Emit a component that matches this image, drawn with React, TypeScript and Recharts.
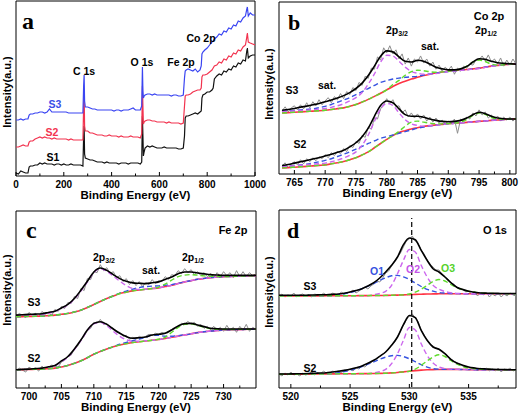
import React from 'react';
import { LineChart, Line, XAxis, YAxis, ReferenceArea, ReferenceLine } from 'recharts';

const FONT = '"Liberation Sans", Arial, Helvetica, sans-serif';
const SERIF = '"Liberation Serif", "Times New Roman", serif';

// ---------- Panel a: survey spectra ----------
const surveyEnergy = [0,10,20,30,40,50,55,60,70,80,90,100,110,120,130,140,150,160,170,180,190,200,210,220,230,240,250,260,270,280,283,285,287,290,300,310,320,330,340,350,360,370,380,390,400,410,420,430,440,450,460,470,480,490,500,510,520,526,529,531,533,536,540,550,560,570,580,590,600,610,620,630,640,650,660,670,680,690,700,705,708,712,720,730,740,750,760,770,775,778,782,790,800,810,820,825,830,840,850,860,870,880,890,900,910,920,930,940,950,960,965,968,972,980,990,1000];
const surveyS1 = [3,2,5,4,3,3, 9,10, 10,11,11,13,12,13,12,12,12,11,12,12,11,12,11,11,12,11,11,11,11,10, 40,50,22,18, 17,16,16,15,14,14,14,13,14,13,13,13,13,12,13,13,13,12,13,13,13,13,12, 14,60,40,20,24,28, 30,29,30,29,28,28,28,29,28,28,28,28,28,27,27,28, 40,58,60, 60,61,62,63,62,64, 65,78,81, 82,84,84,86, 88,97, 100,102,101,105,104,107,106,110,109,113,112,116,115, 124,128,118, 120,121,121];
const surveyS2 = [29,29,30,31,30,30, 34,35, 35,37,38,39,38,39,38,38,37,38,37,37,37,37,37,36,37,36,36,36,36,36, 70,85,50,45, 45,43,43,42,41,41,41,40,40,41,40,40,40,39,40,39,39,39,40,39,39,39,38, 42,90,70,52,54,55, 56,56,55,55,54,54,54,54,53,54,53,53,53,53,52,53, 70,80,81, 81,82,84,85,86,86, 88,99,101, 101,102,104,106, 108,110, 111,114,113,117,116,120,119,123,122,126,125,129,131, 138,143,134, 133,132,131];
const surveyS3 = [56,56,57,56,57,57, 61,62, 62,63,63,64,64,63,64,67,64,64,64,64,64,64,64,63,63,63,63,63,63,63, 90,101,75,69, 69,68,67,67,66,66,66,66,66,66,66,65,66,66,65,66,66,66,67,68,66,66,66, 70,109,85,78,80,81, 82,82,81,82,81,81,81,81,81,81,80,81,81,80,80,81, 98,105,106, 107,106,105,107,104,106, 110,122,124, 126,128,131,134, 135,137, 139,142,141,145,144,148,147,151,150,155,154,158,160, 166,169,160, 163,161,161];
const surveyTicks = [0,100,200,300,400,500,600,700,800,900,1000];
const surveyLabels = [0,200,400,600,800,1000];

// ---------- Panel b: Co 2p ----------
const range = (start: number, step: number, n: number) => Array.from({ length: n }, (_, i) => +(start + i * step).toFixed(2));
const coFitEnergy = range(763, 1, 39);
const coRawEnergy = range(763, 0.5, 77);
const coS3Raw = [62,66,61,65,67,63,68,64,70,65, 71,67,73,68,72,75,70,76,73,79, 74,81,78,85,82,90,87,96,94,104, 103,115,112,124,119,126,118,122,113,118, 108,114,106,113,110,116,109,113,106,110, 103,107,101,105,102,106,98,104,101,106, 104,108,107,112,112,116,111,117,110,113, 108,114,106,112,107,113,108];
const coS3Fit = [62.7,63.3,64.3,65.7,66.7,68,69.3,71,72.7,74.7, 77,80,84,89.3,96.7,106,115.7,121,120,115, 110.7,110,111.7,110.7,108,105,103.3,102.3,102.3,103.3, 105.7,110,113.3,112.7,110.7,109.3,108.7,108.3,108];
const coS3Bg = [60,60.3,60.7,61,61.4,61.8,62.2,62.7,63.4,64.2, 65,66.5,68.3,70.7,73.3,76.3,79.3,82.7,86,89, 91.2,93.3,95,96.7,98,99.3,100.2,101,101.6,102.2, 102.7,103.3,104,105,106,106.7,107.3,108,108.3];
const coS3Mag = [61.3,61.6,62,62.4,62.8,63.2,63.7,64.3,65.5,67, 69,71.8,75,80,88.3,98.3,110,116.7,116,110.7, 105,100.7,99,98,98.2,98.7,99.7,100.7,101.3,101.8, 102.3,103,103.7,104.8,105.8,106.6,107.2,107.7,108];
const coS3Blue = [61.7,62.1,62.5,63,63.5,64,65.2,66.5,68.3,70.5, 72.7,75,78,81,84,87,90,91.7,93.3,94.2, 95,95.5,96,97.2,98.3,99.2,100,100.7,101.3,101.9, 102.5,103.2,104,105,106,106.7,107.3,108,108.3];
const coS3Green = [60,60.3,60.7,61,61.4,61.8,62.2,62.7,63.4,64.2, 65,66.5,68.3,70.7,73.3,76.3,79.3,82.7,88,92, 97,100.5,102,101.5,100.5,100,100.3,101,101.8,103, 106,110,112,110.5,108,107,107.3,108,108.3];
const coS2Raw = [8,11,6,10,12,9,14,10,15,12, 16,13,17,15,19,16,21,18,22,20, 25,22,28,26,32,30,38,36,46,44, 55,54,64,68,74,69,73,66,67,60, 63,56,60,55,59,54,58,52,56,51, 55,50,53,49,52,50,54,40,54,52, 56,54,60,57,63,58,61,55,58,53, 57,52,56,53,56,52,55];
const coS2Fit = [8.3,9.3,10.7,12,13.3,14.7,16,17.7,19.3,21.3, 23.3,26.7,30.7,36.7,45,56.7,67.3,71.7,70,64, 58.3,56.7,56.7,55.7,54,52.7,51.7,51.3,51.7,52.7, 55,58.3,60.7,59.3,56.7,55,54.3,54,54];
const coS2Bg = [6,6.3,6.7,7.1,7.5,8,8.5,9,10,11.1, 12.3,14,16,18.7,21.7,25.8,30,34,37.7,40.7, 42.6,44.3,45.5,46.7,47.5,48.3,48.8,49.3,49.8,50.3, 50.7,51.2,51.7,52.2,52.7,53.1,53.5,54,54.3];
const coS2Mag = [7.3,7.7,8.2,8.6,9.1,9.6,10.1,10.7,12,13.7, 15.7,18.5,21.7,28.3,38.3,51.7,64,69.3,67.3,60, 53.3,49.3,47.7,47,47.4,48,48.7,49.3,49.8,50.3, 50.7,51.2,51.7,52.2,52.7,53.1,53.5,54,54.3];
const coS2Blue = [7.3,7.8,8.3,8.9,9.6,10.7,12,13.4,15,17.2, 19.4,21.7,24.5,27.2,30,32.5,35,36.7,38.3,40, 41.7,43.3,45,46.2,47.3,48,48.7,49.3,49.8,50.3, 50.7,51.2,51.7,52.2,52.7,53.1,53.5,54,54.3];
const coS2Green = [6,6.3,6.7,7.1,7.5,8,8.5,9,10,11.1, 12.3,14,16,18.7,21.7,25.8,30,34,37.7,42, 47,51,52,51,50,49.3,49.3,49.5,50,51, 53.5,57.5,60,58.5,55.5,54,53.8,54,54.3];
const coTicks = [765,767.5,770,772.5,775,777.5,780,782.5,785,787.5,790,792.5,795,797.5,800];
const coLabels = [765,770,775,780,785,790,795,800];

// ---------- Panel c: Fe 2p ----------
const feFitEnergy = range(698, 1, 38);
const feRawEnergy = range(698, 0.5, 75);
const feS3Raw = [72,75,73,71,76,73,75,72,77,74, 76,73,79,77,82,80,86,85,92,90, 100,98,110,109,117,116,124,118,121,115, 117,111,113,107,110,104,108,103,107,102, 106,104,109,105,108,107,112,109,114,113, 118,115,120,116,119,114,117,113,116,112, 115,111,116,112,117,113,116,111,118,112, 117,112,116,113,115];
const feS3Fit = [73.3,73.6,74,74.3,74.7,76,77.3,80.5,84,90, 98.3,107.3,116.7,120.7,118.3,114,110,107.3,105.7,105.3, 105,105.8,106.7,109.2,111.7,115,116.7,116.7,115.7,114.8, 114,113.6,113.3,113.3,113.3,113.3,113.3,113.3];
const feS3Bg = [71.7,71.8,72,72.1,72.3,72.8,73.3,74.1,75,76.5, 78.3,81,84,87,90,92.5,95,96.4,97.7,98.5, 99.3,100,100.7,102,103.3,105,106.7,108,109.3,110.2, 111,111.5,112,112.2,112.4,112.6,112.8,113];
const feS3Mag = [72.5,72.7,73,73.3,73.7,75,77,80,83.5,89.5, 97.5,106.5,116,120,117.5,112.5,107.5,103,100,99, 99.3,100,100.7,102,103.3,105,106.7,108,109.3,110.2, 111,111.5,112,112.2,112.4,112.6,112.8,113];
const feS3Blue = [71.7,71.8,72,72.1,72.3,72.8,73.3,74.1,75,76.5, 78.3,81,84,87,90,92.5,95.5,97.5,99.5,101, 102,102.5,102.7,103.3,104,105.3,106.7,108,109.3,110.2, 111,111.5,112,112.2,112.4,112.6,112.8,113];
const feS3Green = [71.7,71.8,72,72.1,72.3,72.8,73.3,74.1,75,76.5, 78.3,81,84,87,90,92.5,95,96.4,97.7,98.5, 99.3,100,101.5,104.5,108.5,112,113.5,114,113.5,112.8, 112.3,112,112,112.2,112.4,112.6,112.8,113];
const feS2Raw = [17,20,18,16,21,19,20,17,22,19, 21,23,22,21,26,28,32,33,39,42, 48,52,58,60,66,65,69,64,65,61, 60,56,56,52,53,49,51,49,52,50, 52,54,53,55,54,56,55,57,59,61, 62,65,64,67,64,66,62,64,60,62, 59,62,58,61,57,63,58,61,56,62, 58,64,57,61,59];
const feS2Fit = [18.3,18.7,19,19.5,20,21.3,22.7,27.2,31.7,39.3, 48.3,58.3,65,66.7,64,59.3,55,51.7,50,50.6, 51.3,53.3,54,55,58.3,62.3,64.7,65,63.3,61.7, 60,59.6,59.3,59.3,59.3,59.3,59.3,59.3];
const feS2Bg = [18.3,18.5,18.7,18.8,19,19.5,20,21.2,22.7,24.8, 27.3,30.5,34,36.8,39.3,41.5,43.3,44.6,45.7,46.5, 47.3,48,48.7,49.8,51,52.2,53.3,54.5,55.7,56.5, 57.3,57.8,58.3,58.5,58.7,58.9,59.1,59.3];
const feS2Mag = [18.3,18.5,18.8,19.2,19.7,20.8,22.3,26.5,31,38.7, 47.7,57.7,64.5,66,62.5,57,52,48.5,47,47, 47.5,48,48.7,49.8,51,52.2,53.3,54.5,55.7,56.5, 57.3,57.8,58.3,58.5,58.7,58.9,59.1,59.3];
const feS2Blue = [18.3,18.5,18.7,18.8,19,19.5,20,21.2,22.7,24.8, 27.3,30.5,34,36.8,39.3,41.5,44,45.8,47.5,49.3, 51,53,53,52,52,52.7,53.5,54.5,55.7,56.5, 57.3,57.8,58.3,58.5,58.7,58.9,59.1,59.3];
const feS2Green = [18.3,18.5,18.7,18.8,19,19.5,20,21.2,22.7,24.8, 27.3,30.5,34,36.8,39.3,41.5,43.3,44.6,45.7,46.5, 47.3,48,49,51,56,61,64,64.5,63,61, 59.5,59,58.8,58.8,58.9,59,59.1,59.3];
const feTicks = [700,702.5,705,707.5,710,712.5,715,717.5,720,722.5,725,727.5,730,732.5];
const feLabels = [700,705,710,715,720,725,730];

// ---------- Panel d: O 1s ----------
const oFitEnergy = range(519, 0.5, 41);
const oRawEnergy = range(519, 0.25, 81);
const oS3Raw = [92,94,91,93,92,95,91,93, 94,92,93,91,94,93,92,95, 93,92,95,94,93,96,94,95, 96,98,95,97,99,101,99,102, 104,107,106,110,115,117,122,127, 131,135,141,147,149,152,147,144, 138,134,128,124,121,118,118,114, 111,109,105,104,101,99,99,96, 97,94,97,92,95,93,96,91, 94,92,95,91,94,92,95,93,92];
const oS3Fit = [92.7,92.7,92.7,92.7,92.7,92.9,93,93.2,93.3,93.6, 94,94.8,96,97.5,99.3,102,105.3,110,116,122.7, 131,143.3,150,148.3,137.7,127.7,119.3,116,111,105.3, 100.7,98.5,96.7,95.8,95,94.8,94.7,94.6,94.5,94.5, 94.5];
const oS3Bg = [92,92,92,92,92,92.1,92.1,92.1,92.2,92.2, 92.2,92.3,92.3,92.3,92.4,92.4,92.5,92.5,92.6,92.7, 92.9,93.1,93.4,93.6,93.8,94,94.1,94.2,94.3,94.3, 94.3,94.3,94.3,94.3,94.3,94.3,94.3,94.3,94.3,94.3, 94.3];
const oS3O1 = [92,92,92,92,92,92.1,92.1,92.1,92.2,92.6, 93.2,94.2,95.5,97.2,99.3,101.8,104.5,107.5,110.2,112.2, 112.6,111.2,108.5,105,101.5,98.7,96.8,95.5,94.9,94.5, 94.4,94.3,94.3,94.3,94.3,94.3,94.3,94.3,94.3,94.3, 94.3];
const oS3O2 = [92,92,92,92,92,92.1,92.1,92.1,92.2,92.2, 92.2,92.3,92.3,92.3,92.4,92.4,93.3,94.5,96.7,102.7, 114.3,127.7,138.5,136,122.7,111,102.7,98.7,96.5,95.2, 94.6,94.4,94.3,94.3,94.3,94.3,94.3,94.3,94.3,94.3, 94.3];
const oS3O3 = [92,92,92,92,92,92.1,92.1,92.1,92.2,92.2, 92.2,92.3,92.3,92.3,92.4,92.4,92.5,92.5,92.6,92.7, 92.9,93.1,94,95.8,98.8,102.5,106.5,108.5,107,103.5, 100.5,98.3,96.8,95.8,95.1,94.7,94.5,94.4,94.3,94.3, 94.3];
const oS2Raw = [14,12,15,13,16,13,14,12, 15,13,14,16,13,15,14,17, 15,14,17,16,17,15,18,17, 19,17,20,19,22,21,24,25, 28,29,32,34,36,39,43,46, 51,57,63,68,72,74,70,66, 58,53,48,44,42,40,39,37, 34,32,29,27,25,24,22,21, 21,18,21,17,20,18,20,17, 19,17,20,16,19,18,20,17,18];
const oS2Fit = [14,14,14.1,14.2,14.3,14.5,14.8,15,15.3,16, 16.7,17.6,18.7,20.2,22,24.7,27.7,31.7,36,42.7, 51,63.3,72.5,70.3,57.7,47.7,41,38.7,34.3,28.7, 25,22.8,21,20,19.3,19,18.7,18.5,18.4,18.3, 18.3];
const oS2Bg = [13.7,13.7,13.8,13.8,13.9,13.9,14,14,14.1,14.1, 14.2,14.2,14.3,14.3,14.4,14.4,14.5,14.6,14.8,15.1, 15.5,16.1,16.8,17.4,17.9,18.2,18.4,18.5,18.6,18.6, 18.6,18.5,18.4,18.3,18.3,18.3,18.3,18.3,18.3,18.3, 18.3];
const oS2O1 = [13.7,13.7,13.8,13.8,13.9,13.9,14,14,14.1,14.6, 15.3,16.4,17.8,19.5,21.5,23.8,26.2,28.7,30.8,32.3, 32.6,31.4,29.2,26.3,23.3,20.9,19.4,18.8,18.6,18.6, 18.6,18.5,18.4,18.3,18.3,18.3,18.3,18.3,18.3,18.3, 18.3];
const oS2O2 = [13.7,13.7,13.8,13.8,13.9,13.9,14,14,14.1,14.1, 14.2,14.2,14.3,14.3,14.4,14.4,15,16.3,18.7,24.3, 34.3,47.7,60.5,58,44.3,32.7,25,21,19.5,18.9, 18.7,18.5,18.4,18.3,18.3,18.3,18.3,18.3,18.3,18.3, 18.3];
const oS2O3 = [13.7,13.7,13.8,13.8,13.9,13.9,14,14,14.1,14.1, 14.2,14.2,14.3,14.3,14.4,14.4,14.5,14.6,14.8,15.1, 15.5,16.1,16.8,18.8,22.7,27,31,33.2,31.5,27.5, 24,21.5,20,19.2,18.8,18.5,18.4,18.3,18.3,18.3, 18.3];
const oTicks = [520,522.5,525,527.5,530,532.5,535,537.5];
const oLabels = [520,525,530,535];
const oPeakCenter = 530.2;

// ---------- styling ----------
const GRAY = '#8d8d8d';
const RED = '#ff3344';
const BLUE = '#3552e0';
const MAG = '#cc66ee';
const GREEN = '#5fdc2c';
const BLACK = '#000000';

const rows = (xs: number[], ys: number[]) => xs.map((x, i) => ({ x, y: ys[i] }));

const makeTick = (labels: number[]) => (props: any) => {
  const { x, y, payload } = props;
  const major = labels.some((v) => Math.abs(v - payload.value) < 1e-6);
  return (
    <g>
      <line x1={x} x2={x} y1={y} y2={y - (major ? 4 : 2.5)} stroke="#000" strokeWidth={1} />
      {major && (
        <text x={x} y={y + 12} textAnchor="middle" fontSize={10} fontWeight="bold" fontFamily={FONT} fill="#000">
          {payload.value}
        </text>
      )}
    </g>
  );
};

function sampleLines(id: string, fitX: number[], rawX: number[], raw: number[], fit: number[], bg: number[], blue: number[], mag: number[], green: number[]) {
  const common = { dataKey: 'y', dot: false, isAnimationActive: false, activeDot: false } as any;
  return [
    <Line key={id + 'raw'} {...common} data={rows(rawX, raw)} type="linear" stroke={GRAY} strokeWidth={1} />,
    <Line key={id + 'bg'} {...common} data={rows(fitX, bg)} type="monotone" stroke={RED} strokeWidth={1.6} />,
    <Line key={id + 'blue'} {...common} data={rows(fitX, blue)} type="monotone" stroke={BLUE} strokeWidth={1.4} strokeDasharray="5 3" />,
    <Line key={id + 'mag'} {...common} data={rows(fitX, mag)} type="monotone" stroke={MAG} strokeWidth={1.4} strokeDasharray="5 3" />,
    <Line key={id + 'green'} {...common} data={rows(fitX, green)} type="monotone" stroke={GREEN} strokeWidth={1.4} strokeDasharray="5 3" />,
    <Line key={id + 'fit'} {...common} data={rows(fitX, fit)} type="monotone" stroke={BLACK} strokeWidth={1.6} />,
  ];
}

const abs = (left: number, top: number): React.CSSProperties => ({ position: 'absolute', left, top });

const txt = { fontFamily: FONT, fontWeight: 'bold' as const, fontSize: 10.5, fill: '#000' };

export default function App() {
  const aDom: [number, number] = [0, 1000];
  const aY: [number, number] = [0, 175];
  const bDom: [number, number] = [762.5, 801];
  const bY: [number, number] = [0, 169];
  const cDom: [number, number] = [698, 735];
  const cY: [number, number] = [0, 178];
  const dDom: [number, number] = [519, 539];
  const dY: [number, number] = [0, 178];

  return (
    <div style={{ position: 'absolute', left: 0, top: 0, width: 520, height: 417, background: '#fff', overflow: 'hidden' }}>
      {/* Panel a */}
      <div style={abs(0, 0)}>
        <LineChart width={282} height={205} margin={{ top: 1, right: 27, bottom: 0, left: 16 }}>
          <XAxis dataKey="x" type="number" domain={aDom} ticks={surveyTicks} interval={0} tick={makeTick(surveyLabels)} tickLine={false} axisLine={false} tickSize={0} tickMargin={0} height={29} allowDataOverflow />
          <YAxis type="number" domain={aY} hide allowDataOverflow />
          <Line data={rows(surveyEnergy, surveyS1)} dataKey="y" type="linear" stroke="#111" strokeWidth={1.2} dot={false} isAnimationActive={false} />
          <Line data={rows(surveyEnergy, surveyS2)} dataKey="y" type="linear" stroke="#f2334f" strokeWidth={1.2} dot={false} isAnimationActive={false} />
          <Line data={rows(surveyEnergy, surveyS3)} dataKey="y" type="linear" stroke="#3a45f2" strokeWidth={1.2} dot={false} isAnimationActive={false} />
          <ReferenceArea x1={aDom[0]} x2={aDom[1]} y1={aY[0]} y2={aY[1]} fill="none" stroke="#000" strokeWidth={1} ifOverflow="visible" />
        </LineChart>
      </div>

      {/* Panel b */}
      <div style={abs(260, 0)}>
        <LineChart width={260} height={205} margin={{ top: 2, right: 4, bottom: 0, left: 19 }}>
          <XAxis dataKey="x" type="number" domain={bDom} ticks={coTicks} interval={0} tick={makeTick(coLabels)} tickLine={false} axisLine={false} tickSize={0} tickMargin={0} height={31} allowDataOverflow />
          <YAxis type="number" domain={bY} hide allowDataOverflow />
          {sampleLines('b3', coFitEnergy, coRawEnergy, coS3Raw, coS3Fit, coS3Bg, coS3Blue, coS3Mag, coS3Green)}
          {sampleLines('b2', coFitEnergy, coRawEnergy, coS2Raw, coS2Fit, coS2Bg, coS2Blue, coS2Mag, coS2Green)}
          <ReferenceArea x1={bDom[0]} x2={bDom[1]} y1={bY[0]} y2={bY[1]} fill="none" stroke="#000" strokeWidth={1} ifOverflow="visible" />
        </LineChart>
      </div>

      {/* Panel c */}
      <div style={abs(0, 205)}>
        <LineChart width={260} height={212} margin={{ top: 6, right: 4, bottom: 0, left: 16 }}>
          <XAxis dataKey="x" type="number" domain={cDom} ticks={feTicks} interval={0} tick={makeTick(feLabels)} tickLine={false} axisLine={false} tickSize={0} tickMargin={0} height={29} allowDataOverflow />
          <YAxis type="number" domain={cY} hide allowDataOverflow />
          {sampleLines('c3', feFitEnergy, feRawEnergy, feS3Raw, feS3Fit, feS3Bg, feS3Blue, feS3Mag, feS3Green)}
          {sampleLines('c2', feFitEnergy, feRawEnergy, feS2Raw, feS2Fit, feS2Bg, feS2Blue, feS2Mag, feS2Green)}
          <ReferenceArea x1={cDom[0]} x2={cDom[1]} y1={cY[0]} y2={cY[1]} fill="none" stroke="#000" strokeWidth={1} ifOverflow="visible" />
        </LineChart>
      </div>

      {/* Panel d */}
      <div style={abs(260, 205)}>
        <LineChart width={260} height={212} margin={{ top: 5, right: 4, bottom: 0, left: 19 }}>
          <XAxis dataKey="x" type="number" domain={dDom} ticks={oTicks} interval={0} tick={makeTick(oLabels)} tickLine={false} axisLine={false} tickSize={0} tickMargin={0} height={29} allowDataOverflow />
          <YAxis type="number" domain={dY} hide allowDataOverflow />
          {sampleLines('d3', oFitEnergy, oRawEnergy, oS3Raw, oS3Fit, oS3Bg, oS3O1, oS3O2, oS3O3)}
          {sampleLines('d2', oFitEnergy, oRawEnergy, oS2Raw, oS2Fit, oS2Bg, oS2O1, oS2O2, oS2O3)}
          <ReferenceLine segment={[{ x: oPeakCenter, y: 1 }, { x: oPeakCenter, y: 170 }]} stroke="#000" strokeWidth={1.2} strokeDasharray="5 3" />
          <ReferenceArea x1={dDom[0]} x2={dDom[1]} y1={dY[0]} y2={dY[1]} fill="none" stroke="#000" strokeWidth={1} ifOverflow="visible" />
        </LineChart>
      </div>

      {/* Text overlay */}
      <svg width={520} height={417} style={{ position: 'absolute', left: 0, top: 0, pointerEvents: 'none' }}>
        {/* panel letters */}
        <text x={22} y={29} fontFamily={SERIF} fontWeight="bold" fontSize={24}>a</text>
        <text x={288} y={30} fontFamily={SERIF} fontWeight="bold" fontSize={22}>b</text>
        <text x={26} y={238} fontFamily={SERIF} fontWeight="bold" fontSize={24}>c</text>
        <text x={287} y={238} fontFamily={SERIF} fontWeight="bold" fontSize={22}>d</text>

        {/* axis titles */}
        {[135.5, 397.5].map((cx, i) => (
          <text key={'xt' + i} x={cx} y={i === 0 ? 199 : 197} textAnchor="middle" {...txt} fontSize={11.5}>Binding Energy (eV)</text>
        ))}
        {[136, 397.5].map((cx, i) => (
          <text key={'xtb' + i} x={cx} y={i === 0 ? 411 : 411} textAnchor="middle" {...txt} fontSize={11.5}>Binding Energy (eV)</text>
        ))}
        <text transform="translate(8,92) rotate(-90)" textAnchor="middle" dominantBaseline="middle" {...txt} fontSize={11}>Intensity(a.u.)</text>
        <text transform="translate(270,84) rotate(-90)" textAnchor="middle" dominantBaseline="middle" {...txt} fontSize={11}>Intensity(a.u.)</text>
        <text transform="translate(8,290) rotate(-90)" textAnchor="middle" dominantBaseline="middle" {...txt} fontSize={11}>Intensity(a.u.)</text>
        <text transform="translate(270,292) rotate(-90)" textAnchor="middle" dominantBaseline="middle" {...txt} fontSize={11}>Intensity(a.u.)</text>

        {/* panel a annotations */}
        <text x={84} y={75} textAnchor="middle" {...txt}>C 1s</text>
        <text x={142} y={66} textAnchor="middle" {...txt}>O 1s</text>
        <text x={181} y={66} textAnchor="middle" {...txt}>Fe 2p</text>
        <text x={201} y={42} textAnchor="middle" {...txt}>Co 2p</text>
        <text x={55} y={108} textAnchor="middle" {...txt} fill="#3a4ee8">S3</text>
        <text x={52} y={136} textAnchor="middle" {...txt} fill="#f2334f">S2</text>
        <text x={53} y={161} textAnchor="middle" {...txt}>S1</text>

        {/* panel b annotations */}
        <text x={489} y={20} textAnchor="middle" {...txt} fontSize={11}>Co 2p</text>
        <text x={386} y={34} {...txt}>2p<tspan fontSize={7} dy={2}>3/2</tspan></text>
        <text x={430} y={50} textAnchor="middle" {...txt}>sat.</text>
        <text x={475} y={34} {...txt}>2p<tspan fontSize={7} dy={2}>1/2</tspan></text>
        <text x={292} y={94} textAnchor="middle" {...txt}>S3</text>
        <text x={327} y={89} textAnchor="middle" {...txt}>sat.</text>
        <text x={300} y={148} textAnchor="middle" {...txt}>S2</text>

        {/* panel c annotations */}
        <text x={233} y={234} textAnchor="middle" {...txt} fontSize={11}>Fe 2p</text>
        <text x={93} y={261} {...txt}>2p<tspan fontSize={7} dy={2}>3/2</tspan></text>
        <text x={151} y={274} textAnchor="middle" {...txt}>sat.</text>
        <text x={182} y={261} {...txt}>2p<tspan fontSize={7} dy={2}>1/2</tspan></text>
        <text x={34} y={306} textAnchor="middle" {...txt}>S3</text>
        <text x={34} y={362} textAnchor="middle" {...txt}>S2</text>

        {/* panel d annotations */}
        <text x={495} y={234} textAnchor="middle" {...txt} fontSize={11}>O 1s</text>
        <text x={377} y={275} textAnchor="middle" {...txt} fill="#3552e0">O1</text>
        <text x={413} y={273} textAnchor="middle" {...txt} fill="#c455e8">O2</text>
        <text x={448} y={272} textAnchor="middle" {...txt} fill="#55d22a">O3</text>
        <text x={310} y={290} textAnchor="middle" {...txt}>S3</text>
        <text x={310} y={372} textAnchor="middle" {...txt}>S2</text>
      </svg>
    </div>
  );
}
